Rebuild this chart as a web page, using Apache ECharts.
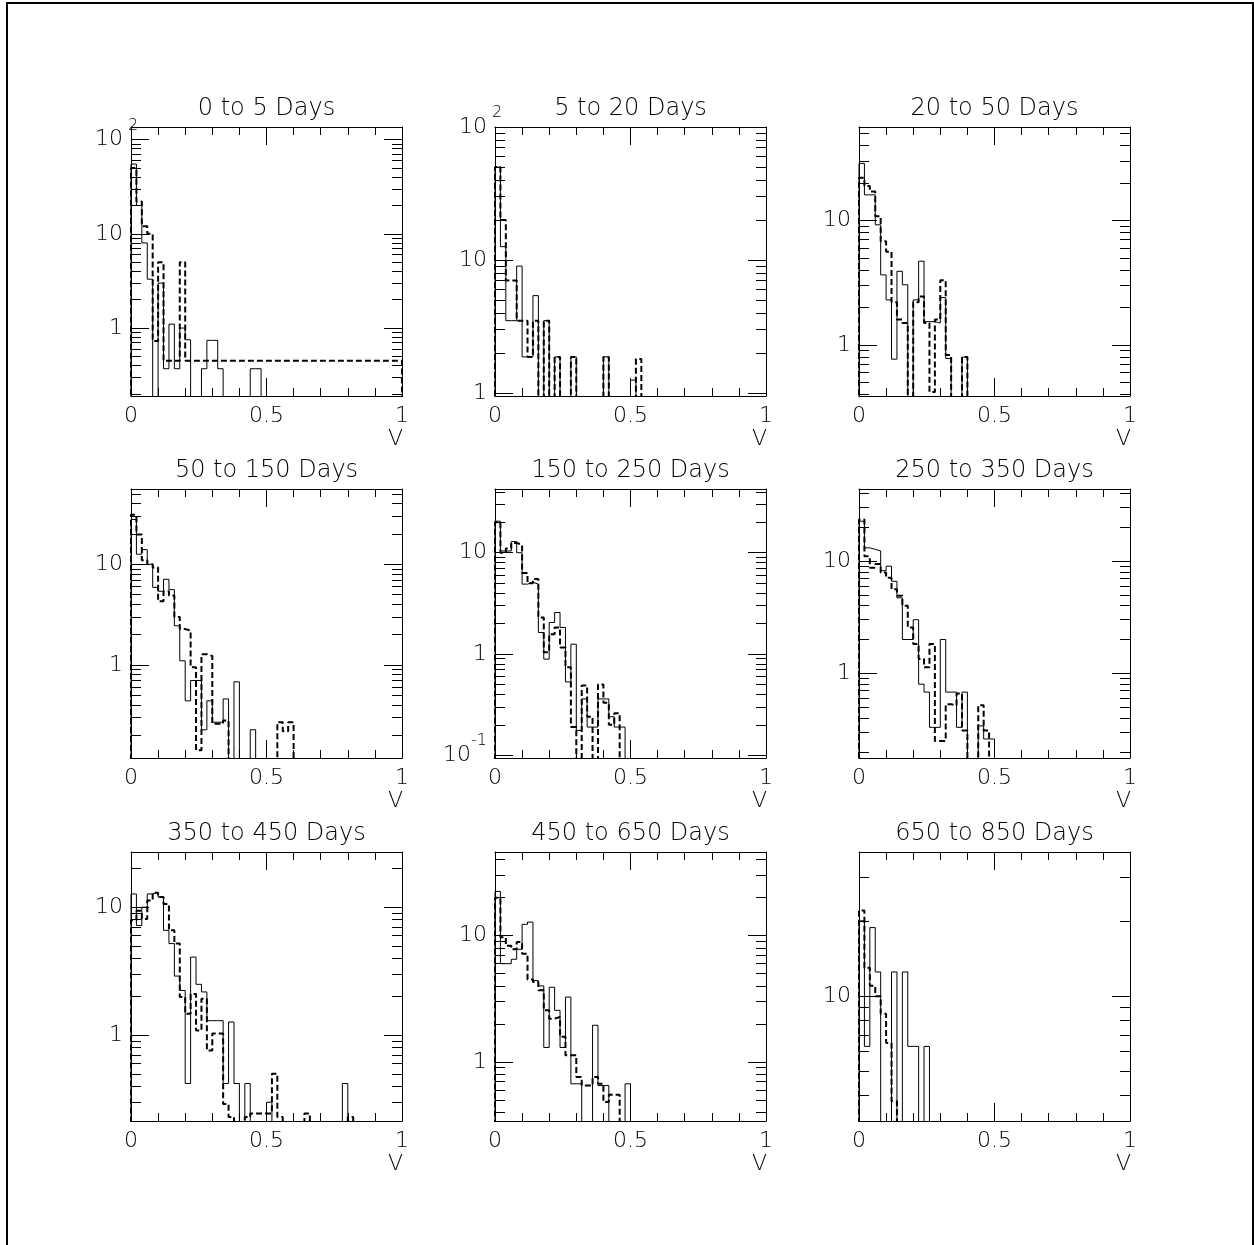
<!DOCTYPE html>
<html>
<head>
<meta charset="utf-8">
<script src="https://cdn.jsdelivr.net/npm/echarts@6/dist/echarts.min.js"></script>
<style>
  html, body { margin: 0; padding: 0; background: #fff; }
  #main { width: 1254px; height: 1245px; }
</style>
</head>
<body>
<div id="main"></div>
<script>
// histogram bins are 0.02 wide in V (0 = empty bin)
var BIN = 0.02;
var FLOOR = 1e-3; // empty bins drop below the frame and get clipped

var titles = ['0 to 5 Days', '5 to 20 Days', '20 to 50 Days',
              '50 to 150 Days', '150 to 250 Days', '250 to 350 Days',
              '350 to 450 Days', '450 to 650 Days', '650 to 850 Days'];

var xTickValues = [0, 0.5, 1];
var yTickValues = [[1, 10, 100], [1, 10, 100], [1, 10], [1, 10], [0.1, 1, 10],
                   [1, 10], [1, 10], [1, 10], [10]];
// log axis range of each panel
var yRange = [[0.19, 136], [0.95, 100], [0.39, 56], [0.119, 56], [0.094, 42.6],
              [0.176, 43.8], [0.214, 27], [0.34, 46], [3.17, 37.7]];

var solid1 = [55, 20, 8, 3.3, 0, 3.0, 0.37, 1.1, 0.37, 1.0, 0.75, 0, 0, 0.37, 0.74, 0.74, 0.37, 0, 0, 0, 0, 0, 0.37, 0.37];
var dashed1 = [50, 22, 12, 10, 0.73, 5, 0.45, 0.45, 0.45, 5,
               0.45, 0.45, 0.45, 0.45, 0.45, 0.45, 0.45, 0.45, 0.45, 0.45,
               0.45, 0.45, 0.45, 0.45, 0.45, 0.45, 0.45, 0.45, 0.45, 0.45,
               0.45, 0.45, 0.45, 0.45, 0.45, 0.45, 0.45, 0.45, 0.45, 0.45,
               0.45, 0.45, 0.45, 0.45, 0.45, 0.45, 0.45, 0.45, 0.45, 0.45];

var solid2 = [50, 12.6, 3.5, 3.5, 9, 1.87, 1.87, 5.4, 0, 3.5, 0, 1.87, 0, 0, 1.87, 0, 0, 0, 0, 0, 1.87, 0, 0, 0, 0, 1.25];
var dashed2 = [50, 20, 7, 7, 3.5, 3.5, 1.87, 3.5, 0, 3.5, 0, 1.87, 0, 0, 1.87, 0, 0, 0, 0, 0, 1.87, 0, 0, 0, 0, 0, 1.8];

var solid3 = [28.6, 16, 16, 9.2, 3.65, 2.3, 0.77, 3.9, 3.04, 0, 2.3, 4.7, 1.54, 1.54, 1.5, 2.4, 0.78, 0, 0, 0.8];
var dashed3 = [21.9, 18.8, 17, 10.8, 6.8, 5.6, 2.2, 1.6, 1.5, 0, 2.2, 2.45, 1.5, 0.42, 1.6, 3.3, 0.83, 0, 0, 0.8];

var solid4 = [27.9, 12.6, 14, 10, 5.9, 5.4, 7.1, 5.6, 2.45, 1.1, 0.44, 0.7, 0.7, 0.227, 0.44, 0.27, 0.27, 0.46, 0, 0.68, 0, 0, 0.227];
var dashed4 = [31, 19.8, 11, 10, 9.3, 4.3, 5.4, 4.9, 3.0, 2.27, 2.2, 0.95, 0.142, 1.28, 1.23, 0.26, 0.26, 0.28,
               0, 0, 0, 0, 0, 0, 0, 0, 0, 0.27, 0.22, 0.27];

var solid5 = [20.5, 10.4, 10.4, 12.9, 10, 4.9, 5.1, 4.9, 1.63, 0.89, 2.05, 2.57, 1.83, 0.53, 1.25, 0.176, 0.36, 0.19, 0.19, 0.36, 0.36, 0.24, 0.19, 0.19];
var dashed5 = [20, 10, 11, 12.5, 12, 6.3, 5, 5.5, 2.3, 1.04, 1.57, 1.83, 1.16, 0.74, 0.19, 0, 0.49, 0.24, 0, 0.5, 0.33, 0.2, 0.26];

var solid6 = [22.6, 13.1, 12.7, 12.3, 8.2, 9.0, 6.6, 4.7, 2.0, 2.0, 3.0, 0.8, 0.68, 0.33, 0.33, 2.0, 0.68, 0.68, 0.33, 0.68, 0, 0, 0.34, 0.26, 0.26];
var dashed6 = [23.4, 11, 8.7, 9.4, 7.9, 7.1, 5.6, 4.9, 4.0, 2.56, 1.82, 1.34, 1.13, 1.82, 0.25, 0.25, 0.53, 0.52, 0.66, 0.31, 0, 0, 0.52, 0.31];

var solid7 = [12.7, 7.2, 10, 12.7, 13.1, 12, 6.6, 5.2, 2.9, 2.24, 0.42, 4.08, 2.5, 2.18, 1.3, 1.3, 1.3, 0.42, 1.27, 0.42,
              0, 0.42, 0, 0, 0, 0.3, 0, 0, 0, 0, 0, 0, 0, 0, 0, 0, 0, 0, 0, 0.42];
var dashed7 = [7.9, 9.4, 8.1, 11.3, 13, 12, 10.6, 6.6, 5.2, 1.99, 1.47, 2.1, 1.09, 1.93, 0.76, 1.03, 1.03, 0.29, 0.23, 0,
               0, 0.23, 0.245, 0.245, 0.245, 0.245, 0.5, 0.23, 0, 0, 0, 0, 0.245, 0, 0, 0, 0, 0, 0, 0, 0.23];

var solid8 = [22.4, 6.0, 6.0, 6.5, 7.8, 12.3, 12.8, 4.4, 4.0, 1.3, 3.9, 2.56, 1.3, 3.26, 0.67, 0.67, 0, 0, 1.95, 0.65, 0.65, 0, 0, 0, 0.67];
var dashed8 = [20, 9.7, 8.3, 7.8, 8.9, 7.2, 4.5, 4.3, 3.7, 2.56, 2.2, 2.27, 1.58, 1.13, 1.13, 0.76, 0.65, 0.65, 0.76, 0.67, 0.48, 0.55, 0.55];

var solid9 = [20, 6.3, 18.8, 12.5, 0, 0, 12.5, 0, 12.5, 6.3, 6.3, 0, 6.3];
var dashed9 = [22, 13, 11, 10, 8.5, 6.5, 3.8];

var solidSets = [solid1, solid2, solid3, solid4, solid5, solid6, solid7, solid8, solid9];
var dashedSets = [dashed1, dashed2, dashed3, dashed4, dashed5, dashed6, dashed7, dashed8, dashed9];

var FONT = 'DejaVu Sans';
var WEIGHT = 200;
var gridLeft = [131, 495, 859];
var gridTop = [127, 489, 852];
var GW = 271, GH = 269;

// turn bin contents into points for a step line
function steps(vals) {
  var pts = [[0, FLOOR]];
  vals.forEach(function (v, i) {
    pts.push([i * BIN, v > 0 ? v : FLOOR]);
  });
  pts.push([vals.length * BIN, FLOOR]);
  return pts;
}

function minorTicks(lo, hi) {
  var out = [];
  for (var p = Math.floor(Math.log10(lo)); p <= Math.ceil(Math.log10(hi)); p++) {
    for (var k = 2; k <= 9; k++) {
      var v = k * Math.pow(10, p);
      if (v >= lo && v <= hi) out.push(v);
    }
  }
  return out;
}

function yLabel(v) {
  var e = Math.round(Math.log10(v));
  if (e === 0) return '1';
  if (e === 1) return '10';
  if (e === 2) return '{ten|10}{up| 2}';
  if (e === -1) return '10{neg|-1}';
  return '';
}

var black = { color: '#000', width: 1 };
var grids = [], xAxes = [], yAxes = [], series = [], graphics = [];

for (var g = 0; g < 9; g++) {
  var L = gridLeft[g % 3], T = gridTop[Math.floor(g / 3)];
  grids.push({ left: L, top: T, width: GW, height: GH, containLabel: false });

  ['bottom', 'top'].forEach(function (pos) {
    xAxes.push({
      gridIndex: g, type: 'value', position: pos, min: 0, max: 1, interval: 0.5,
      axisLine: { show: true, lineStyle: black },
      axisTick: { show: true, inside: true, length: 18, lineStyle: black },
      minorTick: { show: true, splitNumber: 5, length: 8, lineStyle: black },
      splitLine: { show: false },
      axisLabel: pos === 'bottom' ? {
        show: true, customValues: xTickValues, margin: 9,
        fontFamily: FONT, fontWeight: WEIGHT, fontSize: 22, color: '#000'
      } : { show: false }
    });
  });

  var lo = yRange[g][0], hi = yRange[g][1];
  ['left', 'right'].forEach(function (pos) {
    yAxes.push({
      gridIndex: g, type: 'log', logBase: 10, position: pos, min: lo, max: hi,
      axisLine: { show: true, lineStyle: black },
      axisTick: { show: true, inside: true, length: 18, lineStyle: black, customValues: yTickValues[g] },
      splitLine: { show: false },
      axisLabel: pos === 'left' ? {
        show: true, customValues: yTickValues[g], margin: 8,
        fontFamily: FONT, fontWeight: WEIGHT, fontSize: 22, color: '#000',
        formatter: yLabel,
        rich: {
          ten: { fontFamily: FONT, fontWeight: WEIGHT, fontSize: 22, color: '#000', align: 'left' },
          up: { fontFamily: FONT, fontWeight: WEIGHT, fontSize: 16, color: '#000', width: 0, align: 'left',
                verticalAlign: 'top', padding: [0, 0, 28, 0] },
          neg: { fontFamily: FONT, fontWeight: WEIGHT, fontSize: 16, color: '#000',
                 verticalAlign: 'top', padding: [0, 0, 28, 0] }
        }
      } : { show: false }
    });
    yAxes.push({
      gridIndex: g, type: 'log', logBase: 10, position: pos, min: lo, max: hi,
      axisLine: { show: false },
      axisTick: { show: true, inside: true, length: 10, lineStyle: black, customValues: minorTicks(lo, hi) },
      axisLabel: { show: false },
      splitLine: { show: false }
    });
  });

  series.push({
    type: 'line', xAxisIndex: 2 * g, yAxisIndex: 4 * g, step: 'end',
    data: steps(solidSets[g]), showSymbol: false, symbol: 'none', clip: true,
    lineStyle: { color: '#000', width: 1 }
  });
  series.push({
    type: 'line', xAxisIndex: 2 * g, yAxisIndex: 4 * g, step: 'end',
    data: steps(dashedSets[g]), showSymbol: false, symbol: 'none', clip: true,
    lineStyle: { color: '#000', width: 2, type: [6, 3] }
  });

  graphics.push({
    type: 'text', x: L + GW / 2, y: T - 18,
    style: { text: titles[g], fontFamily: FONT, fontWeight: WEIGHT, fontSize: 24, fill: '#000',
             align: 'center', verticalAlign: 'middle', textAlign: 'center', textVerticalAlign: 'middle' }
  });
  graphics.push({
    type: 'text', x: L + GW + 1, y: T + GH + 43,
    style: { text: 'V', fontFamily: FONT, fontWeight: WEIGHT, fontSize: 22, fill: '#000',
             align: 'right', verticalAlign: 'middle', textAlign: 'right', textVerticalAlign: 'middle' }
  });
}

graphics.push({
  type: 'rect', shape: { x: 7, y: 3, width: 1246, height: 1300 },
  style: { fill: 'none', stroke: '#000', lineWidth: 2 }
});

var chart = echarts.init(document.getElementById('main'));
chart.setOption({
  animation: false,
  backgroundColor: '#fff',
  grid: grids,
  xAxis: xAxes,
  yAxis: yAxes,
  series: series,
  graphic: { elements: graphics }
});
</script>
</body>
</html>
